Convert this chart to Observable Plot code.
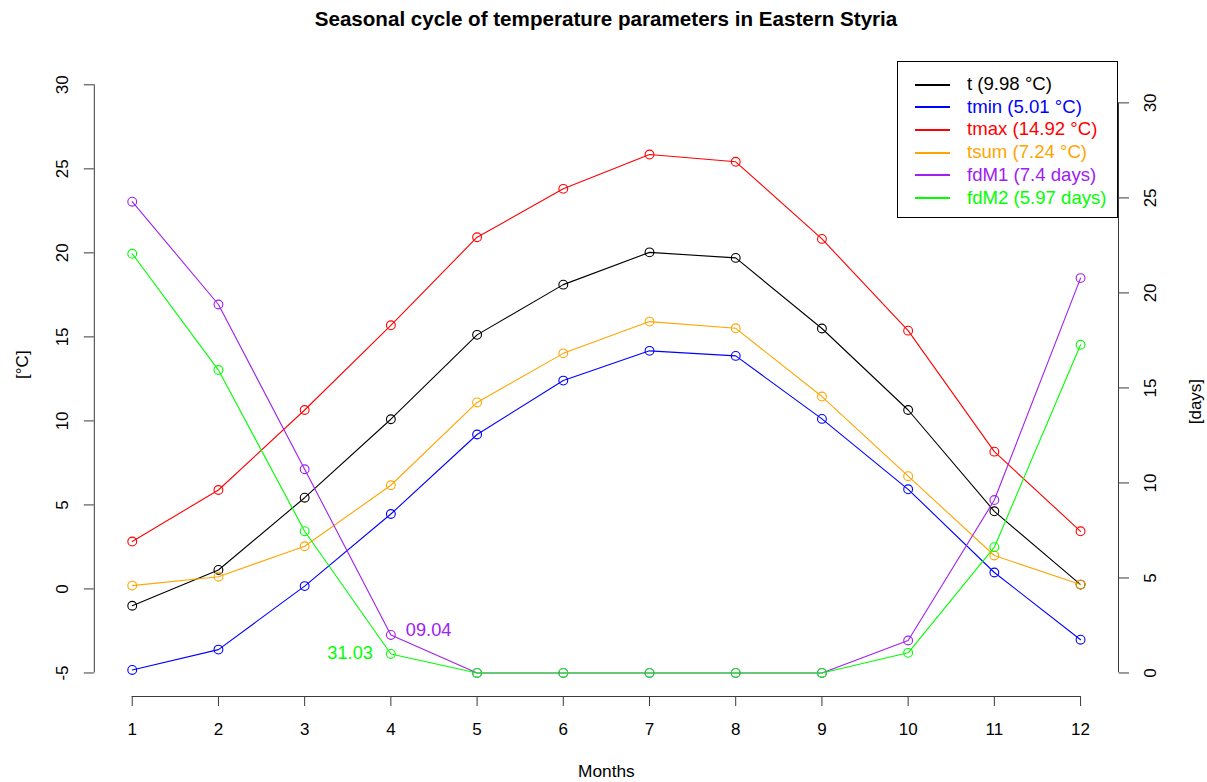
<!DOCTYPE html>
<html>
<head>
<meta charset="utf-8">
<script src="https://cdn.jsdelivr.net/npm/d3@7"></script>
<script src="https://cdn.jsdelivr.net/npm/@observablehq/plot@0.6"></script>
<style>
  html, body { margin: 0; padding: 0; background: #fff; }
  #wrap { position: relative; width: 1207px; height: 782px; font-family: "Liberation Sans", Arial, Helvetica, sans-serif; }
  #title { position: absolute; left: 0; width: 1212px; top: 7px; text-align: center; font-weight: bold; font-size: 20.6px; color: #000; }
  #legend { position: absolute; left: 897px; top: 61px; width: 219px; height: 155px; border: 1px solid #000; background: #fff; box-sizing: content-box; }
  .row { position: absolute; left: 0; width: 219px; height: 22px; }
  .swatch { position: absolute; left: 17px; top: 10.5px; width: 35px; height: 2px; }
  .lbl { position: absolute; left: 69px; top: 0; white-space: nowrap; line-height: 22px; font-size: 18.6px; }
</style>
</head>
<body>
<div id="wrap">
  <div id="chart"></div>
  <div id="title">Seasonal cycle of temperature parameters in Eastern Styria</div>
  <div id="legend"></div>
</div>
<script>
// ---------------- data ----------------
const months = [1, 2, 3, 4, 5, 6, 7, 8, 9, 10, 11, 12];
const seriesNames = ["t", "tmin", "tmax", "tsum", "fdM1", "fdM2"];
const seriesUnits = ["°C", "°C", "°C", "°C", "days", "days"];
const seriesColors = ["#000000", "#0000FF", "#FF0000", "#FFA500", "#A020F0", "#00FF00"];
const legendLabels = ["t (9.98 °C)", "tmin (5.01 °C)", "tmax (14.92 °C)", "tsum (7.24 °C)", "fdM1 (7.4 days)", "fdM2 (5.97 days)"];

const t    = [-1.00, 1.13, 5.43, 10.10, 15.12, 18.11, 20.03, 19.70, 15.50, 10.65, 4.62, 0.26];
const tmin = [-4.82, -3.61, 0.17, 4.46, 9.19, 12.40, 14.17, 13.87, 10.12, 5.93, 0.98, -3.02];
const tmax = [2.82, 5.89, 10.65, 15.69, 20.93, 23.81, 25.85, 25.42, 20.83, 15.37, 8.17, 3.43];
const tsum = [0.20, 0.73, 2.54, 6.17, 11.10, 14.02, 15.91, 15.51, 11.45, 6.71, 1.99, 0.26];
const fdM1 = [24.80, 19.39, 10.72, 2.00, 0, 0, 0, 0, 0, 1.71, 9.10, 20.78];   // days
const fdM2 = [22.06, 15.94, 7.46, 1.00, 0, 0, 0, 0, 0, 1.06, 6.62, 17.27];    // days

const tempTicks = [-5, 0, 5, 10, 15, 20, 25, 30];
const dayTicks = [0, 5, 10, 15, 20, 25, 30];
const annotations = [
  { label: "09.04", month: 4, series: "fdM1", side: "right" },
  { label: "31.03", month: 4, series: "fdM2", side: "left" }
];

// ---------------- scales (R-like 4% padding) ----------------
const tempRange = [-5, 30];
const dayRange = [0, 30.95];
const pad = (r) => { const e = (r[1] - r[0]) * 0.04; return [r[0] - e, r[1] + e]; };
const xDomain = pad([months[0], months[months.length - 1]]);
const yDomain = pad(tempRange);
// map days onto the temperature axis (secondary axis)
const dayToTemp = (d) => tempRange[0] + (d - dayRange[0]) * (tempRange[1] - tempRange[0]) / (dayRange[1] - dayRange[0]);

const valuesBySeries = { t, tmin, tmax, tsum, fdM1, fdM2 };
const rows = [];
seriesNames.forEach((s, i) => {
  valuesBySeries[s].forEach((v, j) => {
    rows.push({ series: s, month: months[j], value: v, plotY: seriesUnits[i] === "days" ? dayToTemp(v) : v });
  });
});
const annRows = annotations.map(a => {
  const r = rows.find(d => d.series === a.series && d.month === a.month);
  return { ...a, plotY: r.plotY, color: seriesColors[seriesNames.indexOf(a.series)] };
});

const axisColor = "#3a3a3a";
const chart = Plot.plot({
  width: 1207,
  height: 782,
  marginLeft: 93.8,
  marginRight: 89,
  marginTop: 60.8,
  marginBottom: 86,
  style: { fontFamily: "'Liberation Sans', Arial, Helvetica, sans-serif", fontSize: "17px", background: "#fff", color: "#000" },
  x: { domain: xDomain, axis: null },
  y: { domain: yDomain, axis: null },
  color: { domain: seriesNames, range: seriesColors },
  marks: [
    // left axis
    Plot.ruleX([xDomain[0]], { y1: tempTicks[0], y2: tempTicks[tempTicks.length - 1], stroke: axisColor }),
    Plot.axisY({ anchor: "left", ticks: tempTicks, tickSize: 10, tickFormat: () => "", label: null, stroke: axisColor }),
    Plot.text(tempTicks, { y: d => d, text: d => String(d), frameAnchor: "left", dx: -32, rotate: -90, textAnchor: "middle", lineAnchor: "middle", fill: "#000", fontSize: 17 }),
    // right axis (days)
    Plot.ruleX([xDomain[1]], { y1: dayToTemp(dayTicks[0]), y2: dayToTemp(dayTicks[dayTicks.length - 1]), stroke: axisColor }),
    Plot.axisY({ anchor: "right", ticks: dayTicks.map(dayToTemp), tickSize: 10, tickFormat: () => "", label: null, stroke: axisColor }),
    Plot.text(dayTicks, { y: d => dayToTemp(d), text: d => String(d), frameAnchor: "right", dx: 32.5, rotate: -90, textAnchor: "middle", lineAnchor: "middle", fill: "#000", fontSize: 17 }),
    // bottom axis
    Plot.ruleY([yDomain[0]], { x1: months[0], x2: months[months.length - 1], stroke: axisColor }),
    Plot.axisX({ anchor: "bottom", ticks: months, tickSize: 10, tickPadding: 16, tickFormat: d => String(d), label: null, stroke: axisColor, fill: "#000", fontSize: 17 }),
    // axis titles
    Plot.text(["[°C]"], { text: d => d, frameAnchor: "left", dx: -72, rotate: -90, fill: "#000", fontSize: 17 }),
    Plot.text(["[days]"], { text: d => d, frameAnchor: "right", dx: 77, rotate: -90, fill: "#000", fontSize: 17 }),
    Plot.text(["Months"], { text: d => d, frameAnchor: "bottom", dy: 80, fill: "#000", fontSize: 17.3 }),
    // series
    Plot.line(rows, { x: "month", y: "plotY", z: "series", stroke: "series", strokeWidth: 1.1 }),
    Plot.dot(rows, { x: "month", y: "plotY", stroke: "series", r: 4.4, strokeWidth: 1.1, fill: "none" }),
    // annotations
    Plot.text(annRows.filter(a => a.side === "right"), { x: "month", y: "plotY", text: "label", fill: "color", textAnchor: "start", dx: 15, dy: -5, fontSize: 18.2 }),
    Plot.text(annRows.filter(a => a.side === "left"), { x: "month", y: "plotY", text: "label", fill: "color", textAnchor: "end", dx: -18, dy: -1, fontSize: 18.2 })
  ]
});
document.getElementById("chart").appendChild(chart);

// legend
const legend = document.getElementById("legend");
legendLabels.forEach((lab, i) => {
  const row = document.createElement("div");
  row.className = "row";
  row.style.top = (11 + i * 22.7) + "px";
  const sw = document.createElement("div");
  sw.className = "swatch";
  sw.style.background = seriesColors[i];
  const tx = document.createElement("div");
  tx.className = "lbl";
  tx.style.color = seriesColors[i];
  tx.textContent = lab;
  row.appendChild(sw);
  row.appendChild(tx);
  legend.appendChild(row);
});
</script>
</body>
</html>
